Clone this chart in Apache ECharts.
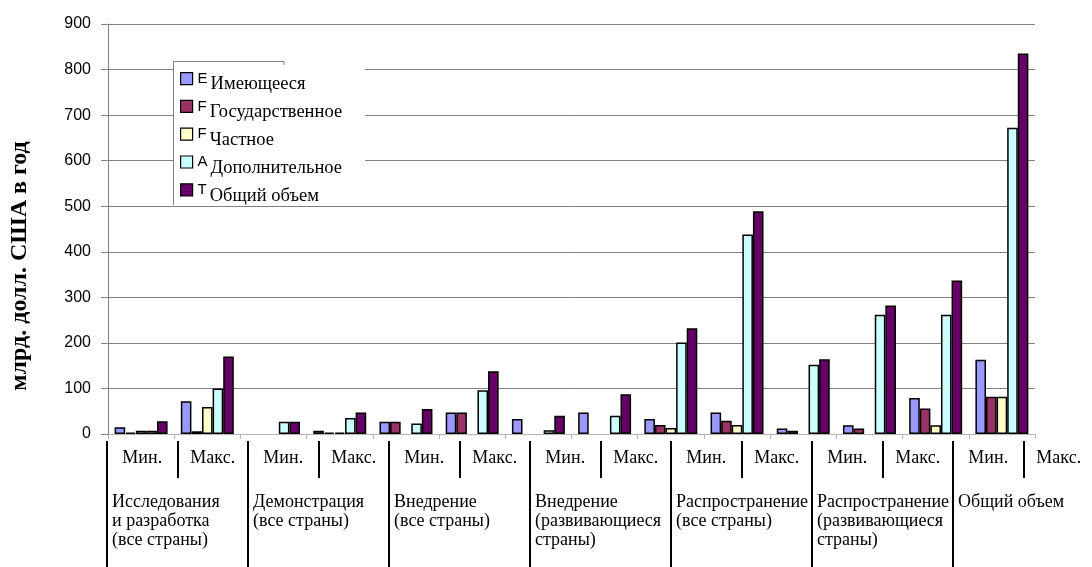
<!DOCTYPE html>
<html>
<head>
<meta charset="utf-8">
<script src="https://cdn.jsdelivr.net/npm/echarts@6/dist/echarts.min.js"></script>
<style>html,body{margin:0;padding:0;background:#fff;}#c{width:1092px;height:567px;}</style>
</head>
<body>
<div id="c"></div>
<script>
// ---- data ----
const subLabels = ['Мин.', 'Макс.', 'Мин.', 'Макс.', 'Мин.', 'Макс.', 'Мин.', 'Макс.', 'Мин.', 'Макс.', 'Мин.', 'Макс.', 'Мин.', 'Макс.'];
const groupLabels = ['Исследования\nи разработка\n(все страны)', 'Демонстрация\n(все страны)', 'Внедрение\n(все страны)', 'Внедрение\n(развивающиеся\nстраны)', 'Распространение\n(все страны)', 'Распространение\n(развивающиеся\nстраны)', 'Общий объем'];
const seriesNames = ['Имеющееся', 'Государственное', 'Частное', 'Дополнительное', 'Общий объем'];
const legendLetters = ['E', 'F', 'F', 'A', 'T'];
const existing   = [15, 72, null, 7, 27, 47, 33, 47, 33, 47, 12, 19, 79, 163];
const publicFund = [3, 6, null, 3, 27, 47, null, null, 20, 29, 7, 12, 56, 82];
const privateFund= [7, 59, null, 3, null, null, null, null, 13, 20, null, null, 19, 82];
const additional = [7, 100, 27, 35, 23, 96, 8, 40, 201, 438, 152, 262, 262, 672];
const total      = [28, 170, 27, 47, 55, 138, 40, 87, 232, 489, 164, 282, 337, 835];
const yTicks = {min: 0, max: 900, interval: 100};
const yTitle = 'млрд. долл. США в год';

const seriesData = [existing, publicFund, privateFund, additional, total];
const colors = ['#9999FF', '#993366', '#FFFFCC', '#CCFFFF', '#660066'];

const chart = echarts.init(document.getElementById('c'), null, {renderer: 'canvas'});
const option = {
  backgroundColor: '#fff',
  animation: false,
  grid: [
    {left: 108, right: 57, top: 24, bottom: 133, outerBoundsMode: 'none', containLabel: false},
    {left: 107, right: -2, top: 441, bottom: 0, outerBoundsMode: 'none', containLabel: false}
  ],
  xAxis: [
    {
      type: 'category', gridIndex: 0, data: subLabels,
      axisLine: {lineStyle: {color: '#b4b4b4', width: 1}},
      axisTick: {show: true, length: 5, lineStyle: {color: '#b4b4b4'}},
      axisLabel: {show: false},
      splitLine: {show: false}
    },
    {
      type: 'category', gridIndex: 1, data: subLabels, position: 'top',
      axisLine: {show: false},
      axisTick: {show: false},
      axisLabel: {show: true, inside: true, interval: 0, margin: 8, verticalAlign: 'top',
        fontFamily: 'Liberation Serif', fontSize: 18, color: '#000'},
      splitLine: {show: false}
    },
    {
      type: 'category', gridIndex: 1, data: groupLabels.concat(['']), position: 'top', boundaryGap: false,
      axisLine: {show: false},
      axisTick: {show: true, inside: true, length: 130, interval: 0, lineStyle: {color: '#000', width: 2}},
      axisLabel: {show: true, inside: true, interval: 0, margin: 52, align: 'left', verticalAlign: 'top',
        padding: [0, 0, 0, 5], lineHeight: 19,
        fontFamily: 'Liberation Serif', fontSize: 18, color: '#000'},
      splitLine: {show: false}
    },
    {
      type: 'category', gridIndex: 1, data: groupLabels, position: 'top',
      axisLine: {show: false},
      axisTick: {show: true, inside: true, alignWithLabel: true, length: 37, interval: 0, lineStyle: {color: '#000', width: 2}},
      axisLabel: {show: false},
      splitLine: {show: false}
    }
  ],
  yAxis: [
    {
      type: 'value', gridIndex: 0, min: yTicks.min, max: yTicks.max, interval: yTicks.interval,
      name: yTitle, nameLocation: 'middle', nameGap: 76,
      nameTextStyle: {fontFamily: 'Liberation Serif', fontWeight: 'bold', fontSize: 24, color: '#000', padding: [0, 74, 0, 0]},
      axisLine: {show: true, lineStyle: {color: '#808080'}},
      axisTick: {show: true, length: 7, lineStyle: {color: '#808080'}},
      axisLabel: {margin: 17, fontFamily: 'Liberation Sans', fontSize: 16, color: '#000'},
      splitLine: {show: true, lineStyle: {color: '#808080', width: 1}}
    },
    {
      type: 'value', gridIndex: 1, show: false
    }
  ],
  legend: {
    show: true,
    orient: 'vertical',
    left: 180, top: 63,
    icon: 'path://M0,0M0,9L12,9L12,21L0,21Z',
    itemWidth: 12, itemHeight: 21, itemGap: -11.3,
    padding: 0,
    backgroundColor: 'transparent',
    data: seriesNames,
    formatter: function (name) {
      const i = seriesNames.indexOf(name);
      return '{l|' + legendLetters[i] + '}{t|' + name + '}';
    },
    textStyle: {
      color: '#000',
      rich: {
        l: {fontFamily: 'Liberation Sans', fontSize: 15, lineHeight: 15, verticalAlign: 'top', padding: [6, 3, 0, 0], color: '#000'},
        t: {fontFamily: 'Liberation Serif', fontSize: 18.5, lineHeight: 18, verticalAlign: 'top', padding: [10, 0, 8, 0], color: '#000'}
      }
    },
    itemStyle: {borderColor: '#000', borderWidth: 1.2}
  },
  graphic: [
    {type: 'rect', z: 1, shape: {x: 173, y: 61, width: 192, height: 144}, style: {fill: '#fff'}},
    {type: 'polyline', z: 100, shape: {points: [[284, 65], [284, 61.5], [173.5, 61.5], [173.5, 205]]},
     style: {stroke: '#808080', lineWidth: 1, fill: null}}
  ],
  series: seriesNames.map(function (n, i) {
    return {
      name: n, type: 'bar', xAxisIndex: 0, yAxisIndex: 0,
      data: seriesData[i],
      barGap: '0%', barCategoryGap: '20%',
      itemStyle: {color: colors[i], borderColor: '#000', borderWidth: 1.5},
      emphasis: {disabled: true}
    };
  })
};
chart.setOption(option);
</script>
</body>
</html>
